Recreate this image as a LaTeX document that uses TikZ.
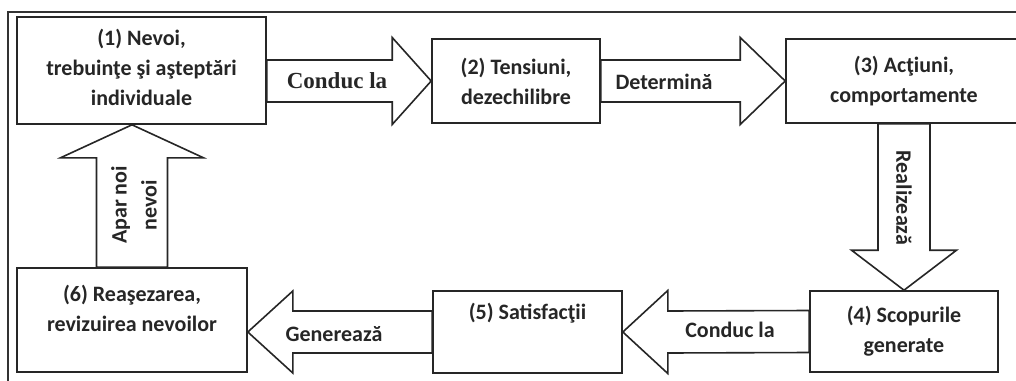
\documentclass[tikz,border=0pt]{standalone}
\usepackage{fontspec}
\setmainfont{Carlito}
\newfontfamily\labelserif{Liberation Serif}
\usetikzlibrary{calc}

% horizontal block arrow: #1 start, #2 tip, #3 shaft half-width, #4 head half-width, #5 signed head length
\newcommand{\hblockarrow}[5]{%
  \draw[blockarrow]
    ($(#1)+(0,-#3)$) -- ($(#2)+(-#5,-#3)$) -- ($(#2)+(-#5,-#4)$) -- (#2)
    -- ($(#2)+(-#5,#4)$) -- ($(#2)+(-#5,#3)$) -- ($(#1)+(0,#3)$) -- cycle;}
% vertical block arrow, same arguments
\newcommand{\vblockarrow}[5]{%
  \draw[blockarrow]
    ($(#1)+(-#3,0)$) -- ($(#2)+(-#3,-#5)$) -- ($(#2)+(-#4,-#5)$) -- (#2)
    -- ($(#2)+(#4,-#5)$) -- ($(#2)+(#3,-#5)$) -- ($(#1)+(#3,0)$) -- cycle;}

\begin{document}
\begin{tikzpicture}[x=1pt,y=-1pt,
  every node/.style={font=\fontsize{22}{30}\selectfont\bfseries, text=black!85},
  stagebox/.style={draw=black!85, line width=1.6pt, fill=white, align=center,
    inner sep=0pt, anchor=center},
  blockarrow/.style={draw=black!85, line width=1.6pt, fill=white, line join=miter},
  arrowtext/.style={align=center, inner sep=0pt},
  frameline/.style={draw=black!80, line width=1.4pt}]
\useasboundingbox (0,0) rectangle (1016,380);
\clip (0,0) rectangle (1016,380);

% outer frame
\draw[frameline] (8,12) rectangle (1030,400);

% the six stages
\node[stagebox, minimum width=249pt, minimum height=107pt] (b1) at (141.5,70.5) {};
\node[arrowtext] (t1) at (141.5,67.5) {(1) Nevoi,\\trebuinţe şi aşteptări\\individuale};
\node[stagebox, minimum width=168pt, minimum height=84pt] (b2) at (516,81)
  {(2) Tensiuni,\\dezechilibre};
\node[stagebox, minimum width=236pt, minimum height=84pt] (b3) at (904,81)
  {(3) Acţiuni,\\comportamente};
\node[stagebox, minimum width=188pt, minimum height=81pt] (b4) at (904,331.5)
  {(4) Scopurile\\generate};
\node[stagebox, minimum width=189pt, minimum height=82pt] (b5) at (527.5,332) {};
\node[arrowtext] (t5) at (527.5,313) {(5) Satisfacţii};
\node[stagebox, minimum width=230pt, minimum height=104pt] (b6) at (132,320) {};
\node[arrowtext] (t6) at (132,308) {(6) Reaşezarea,\\revizuirea nevoilor};

% block arrows between the stages
\hblockarrow{b1.east |- b2.west}{b2.west}{21}{43.5}{39}
\hblockarrow{b2.east}{b3.west}{21}{43.5}{45}
\vblockarrow{b3.south}{b4.north}{26}{52.5}{40}
\hblockarrow{b4.west}{b5.east}{21}{41.5}{-45}
\hblockarrow{b5.west}{b6.east |- b5.west}{21}{41}{-45}
\vblockarrow{b6.north}{b6.north |- b1.south}{35.5}{71.5}{-33}

% arrow labels
\node[arrowtext, font=\fontsize{23}{27}\selectfont\labelserif\bfseries] (l1) at (337,81) {Conduc la};
\node[arrowtext] (l2) at (664,82) {Determină};
\node[arrowtext, rotate=-90] (l3) at (904,198) {Realizează};
\node[arrowtext] (l4) at (730,330) {Conduc la};
\node[arrowtext] (l5) at (334,334) {Generează};
\node[arrowtext, rotate=90] (l6) at (134,205) {Apar noi\\nevoi};
\end{tikzpicture}
\end{document}
